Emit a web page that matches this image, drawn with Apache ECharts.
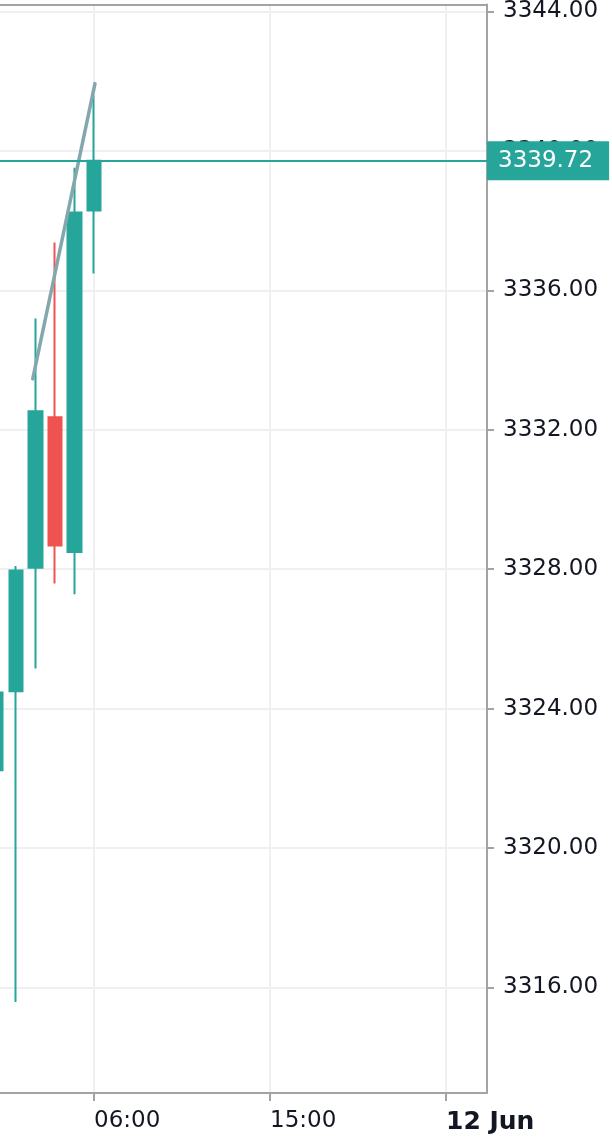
<!DOCTYPE html>
<html>
<head>
<meta charset="utf-8">
<script src="https://cdn.jsdelivr.net/npm/echarts@6/dist/echarts.min.js"></script>
<style>
html,body{margin:0;padding:0;background:#fff;}
#chart{width:612px;height:1147px;}
</style>
</head>
<body>
<div id="chart"></div>
<script>
// ---- data ----
var times = ['2025-06-11 01:00', '2025-06-11 02:00', '2025-06-11 03:00', '2025-06-11 04:00', '2025-06-11 05:00', '2025-06-11 06:00'];
var opens  = [3322.23, 3324.50, 3328.04, 3332.36, 3328.49, 3338.29];
var closes = [3324.46, 3327.96, 3332.53, 3328.68, 3338.23, 3339.72];
var lows   = [3321.20, 3315.58, 3325.15, 3327.59, 3327.28, 3336.48];
var highs  = [3325.10, 3328.09, 3335.19, 3337.37, 3339.52, 3341.60];
var lastPrice = 3339.72;
var trendTimes = ['2025-06-11 02:52', '2025-06-11 06:03'];
var trendValues = [3333.46, 3341.93];
var xTickTimes = ['2025-06-11 06:00', '2025-06-11 15:00', '2025-06-12 00:00'];
var xTickLabels = ['06:00', '15:00', '12 Jun'];
var xTickBold = [false, false, true];
var yTickValues = [3316, 3320, 3324, 3328, 3332, 3336, 3340, 3344];
var xMin = '2025-06-11 01:11:35';
var xMax = '2025-06-12 02:05:48';
var yMin = 3312.97;
var yMax = 3344.20;

// hours since 2025-06-11 00:00 (axis is a plain value axis measured in hours)
var BASE = Date.UTC(2025, 5, 11);
function hrs(s) {
  var p = s.split(/[- :]/).map(Number);
  return (Date.UTC(p[0], p[1] - 1, p[2], p[3] || 0, p[4] || 0, p[5] || 0) - BASE) / 3600000;
}
var xTickVals = xTickTimes.map(hrs);

var candleData = times.map(function (t, i) {
  return [hrs(t), opens[i], closes[i], lows[i], highs[i]];
});
var trendData = trendTimes.map(function (t, i) { return [hrs(t), trendValues[i]]; });

var FONT = 'DejaVu Sans';
var BORDER = '#a3a3a3';
var chart = echarts.init(document.getElementById('chart'));
chart.setOption({
  animation: false,
  backgroundColor: '#ffffff',
  grid: { left: 0, right: 125, top: 4, bottom: 54, show: false },
  xAxis: [{
    type: 'value',
    position: 'bottom',
    min: hrs(xMin), max: hrs(xMax),
    axisLine: { show: true, onZero: false, lineStyle: { color: BORDER, width: 2 } },
    axisTick: { show: true, customValues: xTickVals, length: 8, lineStyle: { color: BORDER, width: 2 } },
    splitLine: { show: true, lineStyle: { color: '#f0f0f3', width: 2 } },
    axisLabel: {
      customValues: xTickVals,
      align: 'left',
      margin: 17,
      fontFamily: FONT,
      fontSize: 23,
      color: '#131722',
      formatter: function (v) {
        var idx = -1;
        for (var i = 0; i < xTickVals.length; i++) if (Math.abs(xTickVals[i] - v) < 0.01) idx = i;
        if (idx < 0) return '';
        return xTickBold[idx] ? '{b|' + xTickLabels[idx] + '}' : xTickLabels[idx];
      },
      rich: { b: { fontFamily: FONT, fontSize: 25, fontWeight: 'bold', color: '#131722' } }
    }
  }, {
    type: 'value',
    position: 'top',
    min: hrs(xMin), max: hrs(xMax),
    axisLine: { show: true, onZero: false, lineStyle: { color: BORDER, width: 2 } },
    axisTick: { show: false },
    axisLabel: { show: false },
    splitLine: { show: false }
  }],
  yAxis: {
    type: 'value',
    position: 'right',
    min: yMin, max: yMax,
    axisLine: { show: true, onZero: false, lineStyle: { color: BORDER, width: 2 } },
    axisTick: { show: true, customValues: yTickValues, length: 7, lineStyle: { color: BORDER, width: 2 } },
    splitLine: { show: true, lineStyle: { color: '#f0f0f3', width: 2 } },
    axisLabel: {
      customValues: yTickValues,
      margin: 16,
      fontFamily: FONT,
      fontSize: 23,
      color: '#131722',
      formatter: function (v) { return v.toFixed(2); }
    }
  },
  series: [
    {
      type: 'candlestick',
      data: candleData,
      barWidth: 14,
      clip: true,
      itemStyle: {
        color: '#26a69a', color0: '#ef5350',
        borderColor: '#26a69a', borderColor0: '#ef5350',
        borderWidth: 2
      },
      markLine: {
        silent: true,
        symbol: ['none', 'none'],
        animation: false,
        lineStyle: { color: '#26a69a', width: 2, type: 'solid' },
        label: {
          show: true,
          position: 'end',
          distance: 0,
          formatter: lastPrice.toFixed(2),
          backgroundColor: '#26a69a',
          color: '#ffffff',
          fontFamily: FONT,
          fontSize: 23,
          padding: [8, 16, 8, 11]
        },
        data: [{ yAxis: lastPrice }]
      },
      z: 3
    },
    {
      type: 'line',
      data: trendData,
      symbol: 'none',
      silent: true,
      lineStyle: { color: '#84a7ad', width: 3.5, cap: 'round' },
      z: 4
    }
  ]
});
</script>
</body>
</html>
